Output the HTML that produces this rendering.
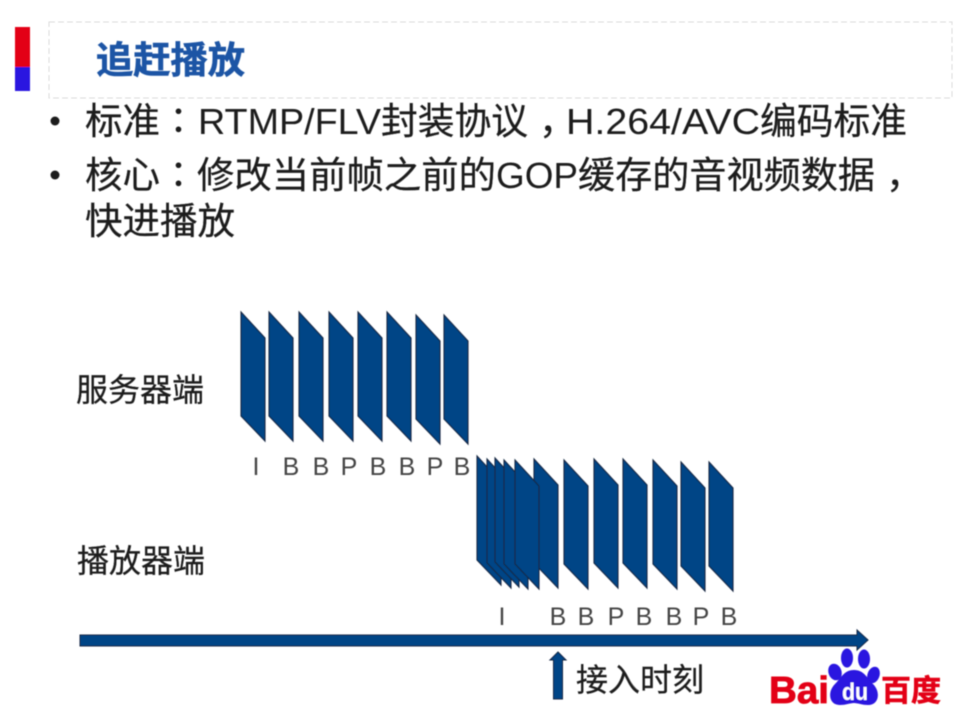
<!DOCTYPE html>
<html><head><meta charset="utf-8"><style>
html,body{margin:0;padding:0;background:#fff}
svg{display:block}
text{font-family:"Liberation Sans","Noto Sans CJK SC",sans-serif}
.b{font-size:37px;fill:#1c1c1c;stroke:#1c1c1c;stroke-width:.25px}
.lat{font-size:36px;fill:#1c1c1c}
.pun{font-size:37px;fill:#1c1c1c;font-family:"Liberation Sans","Noto Sans CJK TC",sans-serif}
.l{font-size:32px;fill:#1c1c1c;stroke:#1c1c1c;stroke-width:.25px}
.f{font-size:25px;fill:#444}
</style></head><body>
<svg width="960" height="720" viewBox="0 0 960 720" xmlns="http://www.w3.org/2000/svg">
<defs>
<filter id="s" x="-10%" y="-10%" width="120%" height="120%"><feGaussianBlur stdDeviation="0.4"/></filter>
<path id="p" d="M0 0 L24 26 V129 L0 104 Z" fill="#004586" stroke="#14263f" stroke-width="1.100"/>
</defs>
<g filter="url(#s)">
<rect x="15" y="27" width="15" height="40" fill="#e30613"/>
<rect x="15" y="67" width="15" height="24" fill="#2a12e0"/>
<rect x="49" y="22" width="903" height="76" fill="none" stroke="#dcdcdc" stroke-width="1" stroke-dasharray="6 3"/>
<text x="96" y="73" font-size="37" font-weight="700" fill="#1f55a5" stroke="#1f55a5" stroke-width=".6" textLength="149" lengthAdjust="spacingAndGlyphs">追赶播放</text>

<circle cx="55" cy="121" r="4.500" fill="#1c1c1c"/>
<circle cx="55" cy="175" r="4.500" fill="#1c1c1c"/>
<text class="b" x="85" y="134" textLength="75" lengthAdjust="spacingAndGlyphs">标准</text>
<text class="pun" x="160" y="134">：</text>
<text class="lat" x="198" y="134" textLength="183" lengthAdjust="spacingAndGlyphs">RTMP/FLV</text>
<text class="b" x="381" y="134" textLength="147" lengthAdjust="spacingAndGlyphs">封装协议</text>
<text class="b" x="539" y="134">，</text>
<text class="lat" x="566" y="134" textLength="194" lengthAdjust="spacingAndGlyphs">H.264/AVC</text>
<text class="b" x="760" y="134" textLength="147" lengthAdjust="spacingAndGlyphs">编码标准</text>

<text class="b" x="85" y="188" textLength="75" lengthAdjust="spacingAndGlyphs">核心</text>
<text class="pun" x="160" y="188">：</text>
<text class="b" x="197" y="188" textLength="299" lengthAdjust="spacingAndGlyphs">修改当前帧之前的</text>
<text class="lat" x="496" y="188" textLength="82" lengthAdjust="spacingAndGlyphs">GOP</text>
<text class="b" x="578" y="188" textLength="297" lengthAdjust="spacingAndGlyphs">缓存的音视频数据</text>
<text class="b" x="886" y="188">，</text>
<text class="b" x="85" y="234" textLength="150" lengthAdjust="spacingAndGlyphs">快进播放</text>

<use href="#p" x="241" y="312"/><use href="#p" x="269" y="312"/><use href="#p" x="299" y="312"/><use href="#p" x="329" y="312"/>
<use href="#p" x="358" y="312"/><use href="#p" x="387" y="312"/><use href="#p" x="416" y="315"/><use href="#p" x="444" y="315"/>

<use href="#p" x="709" y="462"/><use href="#p" x="681" y="462"/><use href="#p" x="653" y="460"/><use href="#p" x="623" y="459"/>
<use href="#p" x="594" y="459"/><use href="#p" x="564" y="460"/><use href="#p" x="534" y="459"/>
<use href="#p" x="477" y="456"/><use href="#p" x="487" y="459"/><use href="#p" x="495" y="458"/><use href="#p" x="504" y="460"/><use href="#p" x="515" y="460"/>

<g text-anchor="middle">
<text class="f" x="256" y="475">I</text><text class="f" x="291" y="475">B</text><text class="f" x="321" y="475">B</text><text class="f" x="349" y="475">P</text>
<text class="f" x="378" y="475">B</text><text class="f" x="407" y="475">B</text><text class="f" x="435" y="475">P</text><text class="f" x="462" y="475">B</text>
<text class="f" x="502" y="625">I</text><text class="f" x="558" y="625">B</text><text class="f" x="586" y="625">B</text><text class="f" x="616" y="625">P</text>
<text class="f" x="644" y="625">B</text><text class="f" x="674" y="625">B</text><text class="f" x="701" y="625">P</text><text class="f" x="729" y="625">B</text>
</g>

<text class="l" x="76" y="401" textLength="128" lengthAdjust="spacingAndGlyphs">服务器端</text>
<text class="l" x="77" y="572" textLength="128" lengthAdjust="spacingAndGlyphs">播放器端</text>
<text class="l" x="576" y="691" textLength="128" lengthAdjust="spacingAndGlyphs">接入时刻</text>

<path d="M80 635 H857 V630 L868 640 L857 650 V646 H80 Z" fill="#004586" stroke="#14263f" stroke-width="1"/>
<path d="M553.500 699 V660 H550 L558 652 L566 660 H562.500 V699 Z" fill="#004586" stroke="#14263f" stroke-width="1"/>

<text x="769" y="703" font-size="38" font-weight="700" fill="#e30613" stroke="#e30613" stroke-width=".8" textLength="60" lengthAdjust="spacingAndGlyphs">Bai</text>
<g fill="#2a12e0">
<ellipse cx="835" cy="672" rx="6.500" ry="8.500" transform="rotate(-20 835 672)"/>
<ellipse cx="847" cy="658" rx="6" ry="9.500"/>
<ellipse cx="864" cy="659" rx="6" ry="9.500"/>
<ellipse cx="873.500" cy="675" rx="6" ry="8.500" transform="rotate(20 873.500 675)"/>
<path d="M854 670 C864 670 867 678 873 684 C881 692 879 705 868 705 C862 705 858 703 854 703 C850 703 846 705 840 705 C829 705 827 692 835 684 C841 678 844 670 854 670 Z"/>
</g>
<text x="855" y="700" font-size="24" font-weight="700" fill="#fff" text-anchor="middle" textLength="26" lengthAdjust="spacingAndGlyphs">du</text>
<text x="881" y="701" font-size="30" font-weight="700" fill="#e30613" stroke="#e30613" stroke-width=".6" textLength="60" lengthAdjust="spacingAndGlyphs">百度</text>
</g>
</svg>
</body></html>
